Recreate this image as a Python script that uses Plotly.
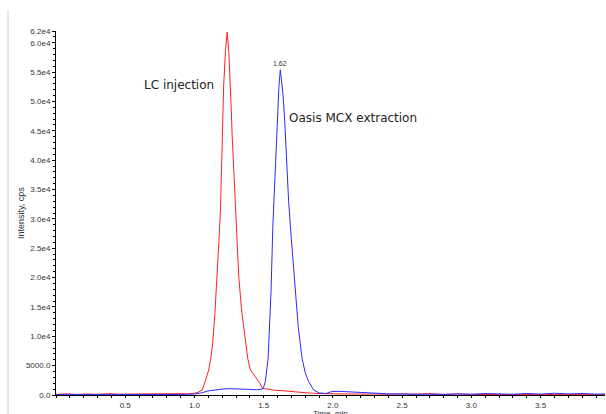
import plotly.graph_objects as go

# ---------------- data ----------------
red_t = [0.0, 0.08, 0.15, 0.22, 0.3, 0.38, 0.45, 0.52, 0.6, 0.68, 0.75, 0.82, 0.9, 0.95, 1.0, 1.03,
         1.056, 1.08, 1.103, 1.118, 1.132, 1.148, 1.164, 1.176, 1.188, 1.200, 1.211, 1.224, 1.236,
         1.248, 1.260, 1.266, 1.272, 1.286, 1.301, 1.31, 1.320, 1.34, 1.368, 1.385, 1.404, 1.44,
         1.47, 1.49, 1.53, 1.585, 1.65, 1.72, 1.765, 1.83, 1.9, 2.0, 2.1, 2.2, 2.3, 2.4, 2.5,
         2.6, 2.7, 2.8, 2.9, 3.0, 3.2, 3.4, 3.6, 3.8, 3.97]
red_y = [120, 200, 90, 180, 110, 230, 140, 160, 210, 120, 250, 190, 240, 180, 300, 500,
         850, 2500, 4260, 6300, 8850, 14000, 20150, 26000, 31500, 44300, 52800, 58500, 61800,
         58500, 52800, 48500, 44300, 37500, 30000, 25000, 20150, 14500, 8850, 6200, 4260, 3100,
         2100, 1140, 950, 800, 700, 520, 430, 330, 250, 200, 170, 150, 180, 120, 200,
         140, 230, 110, 180, 90, 80, 60, 70, 50, 60]

blue_t = [0.0, 0.1, 0.2, 0.3, 0.4, 0.5, 0.6, 0.7, 0.8, 0.9, 1.0, 1.05, 1.1, 1.15, 1.2, 1.25,
          1.3, 1.35, 1.4, 1.45, 1.49, 1.50, 1.512, 1.532, 1.553, 1.566, 1.577, 1.597, 1.610,
          1.620, 1.632, 1.64, 1.652, 1.665, 1.68, 1.70, 1.729, 1.75, 1.777, 1.80, 1.825, 1.861,
          1.9, 1.95, 1.98, 2.0, 2.05, 2.1, 2.2, 2.3, 2.4, 2.5, 2.6, 2.7, 2.8, 2.9, 3.0, 3.1,
          3.2, 3.3, 3.4, 3.5, 3.6, 3.7, 3.8, 3.9, 3.97]
blue_y = [60, 50, 70, 40, 80, 50, 60, 70, 50, 90, 170, 350, 700, 900, 1000, 1080,
          1000, 950, 960, 900, 1000, 1400, 2270, 6250, 17600, 28700, 35200, 46560, 52500,
          55400, 53000, 51000, 46560, 40000, 33000, 26500, 17600, 11500, 6250, 3800, 2270, 850,
          350, 250, 500, 600, 620, 550, 450, 350, 200, 150, 120, 200, 100, 180, 130, 250,
          160, 120, 260, 150, 300, 180, 260, 140, 200]

peak_label = "1.62"
peak_time = 1.62
peak_height = 55400

y_tickvals = [0, 5000, 10000, 15000, 20000, 25000, 30000, 35000, 40000, 45000, 50000, 55000, 60000, 62000]
y_ticktext = ["0.0", "5000.0", "1.0e4", "1.5e4", "2.0e4", "2.5e4", "3.0e4", "3.5e4", "4.0e4",
              "4.5e4", "5.0e4", "5.5e4", "6.0e4", "6.2e4"]
x_tickvals = [0.5, 1.0, 1.5, 2.0, 2.5, 3.0, 3.5]
x_ticktext = ["0.5", "1.0", "1.5", "2.0", "2.5", "3.0", "3.5"]

# ---------------- figure ----------------
fig = go.Figure()
fig.add_trace(go.Scatter(x=red_t, y=red_y, mode="lines",
                         line=dict(color="#ff2020", width=1), showlegend=False))
fig.add_trace(go.Scatter(x=blue_t, y=blue_y, mode="lines",
                         line=dict(color="#2a2aff", width=1), showlegend=False))
# small marker on the y axis
fig.add_trace(go.Scatter(x=[-0.012], y=[2700], mode="markers",
                         marker=dict(symbol="triangle-right", size=6, color="#1010a0"),
                         cliponaxis=False, showlegend=False))

tick_font = dict(family="Liberation Sans, Arial", size=8, color="#333333")

fig.update_layout(
    width=606, height=414,
    margin=dict(l=56, r=1, t=31, b=19),
    paper_bgcolor="white", plot_bgcolor="white",
    xaxis=dict(range=[0, 3.965], showgrid=False, zeroline=False,
               showline=True, linecolor="black", linewidth=1,
               tickmode="array", tickvals=x_tickvals, ticktext=x_ticktext,
               ticks="outside", ticklen=2, tickcolor="black", tickfont=tick_font,
               minor=dict(ticks="outside", dtick=0.1, tick0=0, ticklen=2, tickcolor="black"),
               automargin=False),
    yaxis=dict(range=[0, 62000], showgrid=False, zeroline=False,
               showline=True, linecolor="black", linewidth=1,
               tickmode="array", tickvals=y_tickvals, ticktext=y_ticktext,
               ticks="outside", ticklen=3, tickcolor="black", tickfont=tick_font,
               minor=dict(ticks="outside", dtick=1000, tick0=0, ticklen=2, tickcolor="black"),
               automargin=False),
)

ann_font = dict(family="DejaVu Sans", size=12, color="#222222")
fig.add_annotation(x=0.885, y=52800, xref="x", yref="y", text="LC injection",
                   showarrow=False, font=ann_font)
fig.add_annotation(x=2.147, y=47200, xref="x", yref="y", text="Oasis MCX extraction",
                   showarrow=False, font=ann_font)
fig.add_annotation(x=peak_time, y=peak_height, xref="x", yref="y", text=peak_label,
                   showarrow=False, yanchor="bottom", yshift=1,
                   font=dict(family="Liberation Sans, Arial", size=7, color="#333333"))

# axis titles
fig.add_annotation(x=0.5, y=-0.0335, xref="paper", yref="paper", text="Time, min",
                   showarrow=False, yanchor="top",
                   font=dict(family="Liberation Sans, Arial", size=8, color="#333333"))
fig.add_annotation(x=-0.0765, y=0.5, xref="paper", yref="paper", text="Intensity, cps",
                   showarrow=False, textangle=-90,
                   font=dict(family="Liberation Sans, Arial", size=9, color="#333333"))

# left grey border line
fig.add_shape(type="line", xref="paper", yref="paper", x0=-0.0874, x1=-0.0874,
              y0=1.058, y1=-0.06, line=dict(color="#cccccc", width=1))

fig.write_html("out.html")
